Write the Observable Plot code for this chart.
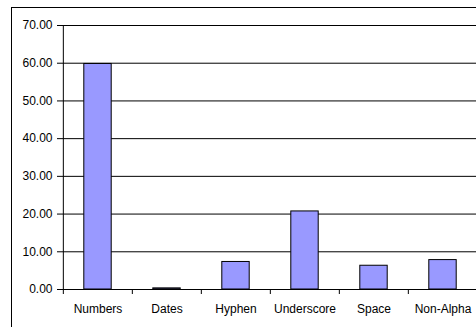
<!DOCTYPE html>
<html>
<head>
<meta charset="utf-8">
<script src="https://cdn.jsdelivr.net/npm/d3@7"></script>
<script src="https://cdn.jsdelivr.net/npm/@observablehq/plot@0.6"></script>
<style>
  html, body { margin: 0; padding: 0; background: #fff; }
  #frame { position: relative; width: 476px; height: 327px; overflow: hidden; }
  #border { position: absolute; left: 11px; top: 7px; width: 480px; height: 340px;
            border-left: 1px solid #000; border-top: 1px solid #000; }
  #chart { position: absolute; left: 0; top: 0; width: 490px; }
  #chart svg { max-width: none !important; }
</style>
</head>
<body>
<div id="frame">
  <div id="border"></div>
  <div id="chart"></div>
</div>
<script>
// Share of identifiers containing each kind of character
const categories = ["Numbers", "Dates", "Hyphen", "Underscore", "Space", "Non-Alpha"];
const values = [59.8, 0.3, 7.3, 20.7, 6.3, 7.8];
const yTicks = [0, 10, 20, 30, 40, 50, 60, 70];

const width = 490, height = 327;
const marginLeft = 62, marginRight = 12, marginTop = 25, marginBottom = 38;
const band = (width - marginLeft - marginRight) / categories.length;
const inset = (band - band / 2.5) / 2; // 150% gap between bars

const data = categories.map((category, i) => ({category, value: values[i]}));

const chart = Plot.plot({
  width, height, marginLeft, marginRight, marginTop, marginBottom,
  style: {
    fontFamily: "'Liberation Sans', Arial, sans-serif",
    fontSize: "12px",
    background: "transparent",
    color: "#000",
    maxWidth: "none"
  },
  x: {domain: categories, padding: 0, label: null},
  y: {domain: [0, 70], label: null},
  marks: [
    Plot.gridY(yTicks, {stroke: "#000", strokeOpacity: 1}),
    Plot.barY(data, {
      x: "category", y: "value",
      fill: "#9999FF", stroke: "#000", strokeWidth: 1,
      insetLeft: inset, insetRight: inset
    }),
    // value axis
    Plot.ruleX([categories[0]], {dx: -band / 2, stroke: "#000"}),
    Plot.axisY(yTicks, {tickFormat: d3.format(".2f"), tickSize: 5, tickPadding: 5, label: null}),
    // category axis: ticks between categories, labels centred
    Plot.ruleY([0], {stroke: "#000"}),
    Plot.axisX({tickSize: 5, tickFormat: () => "", dx: -band / 2, label: null}),
    Plot.axisX({tickSize: 0, tickPadding: 15, label: null})
  ]
});

document.getElementById("chart").appendChild(chart);
</script>
</body>
</html>
